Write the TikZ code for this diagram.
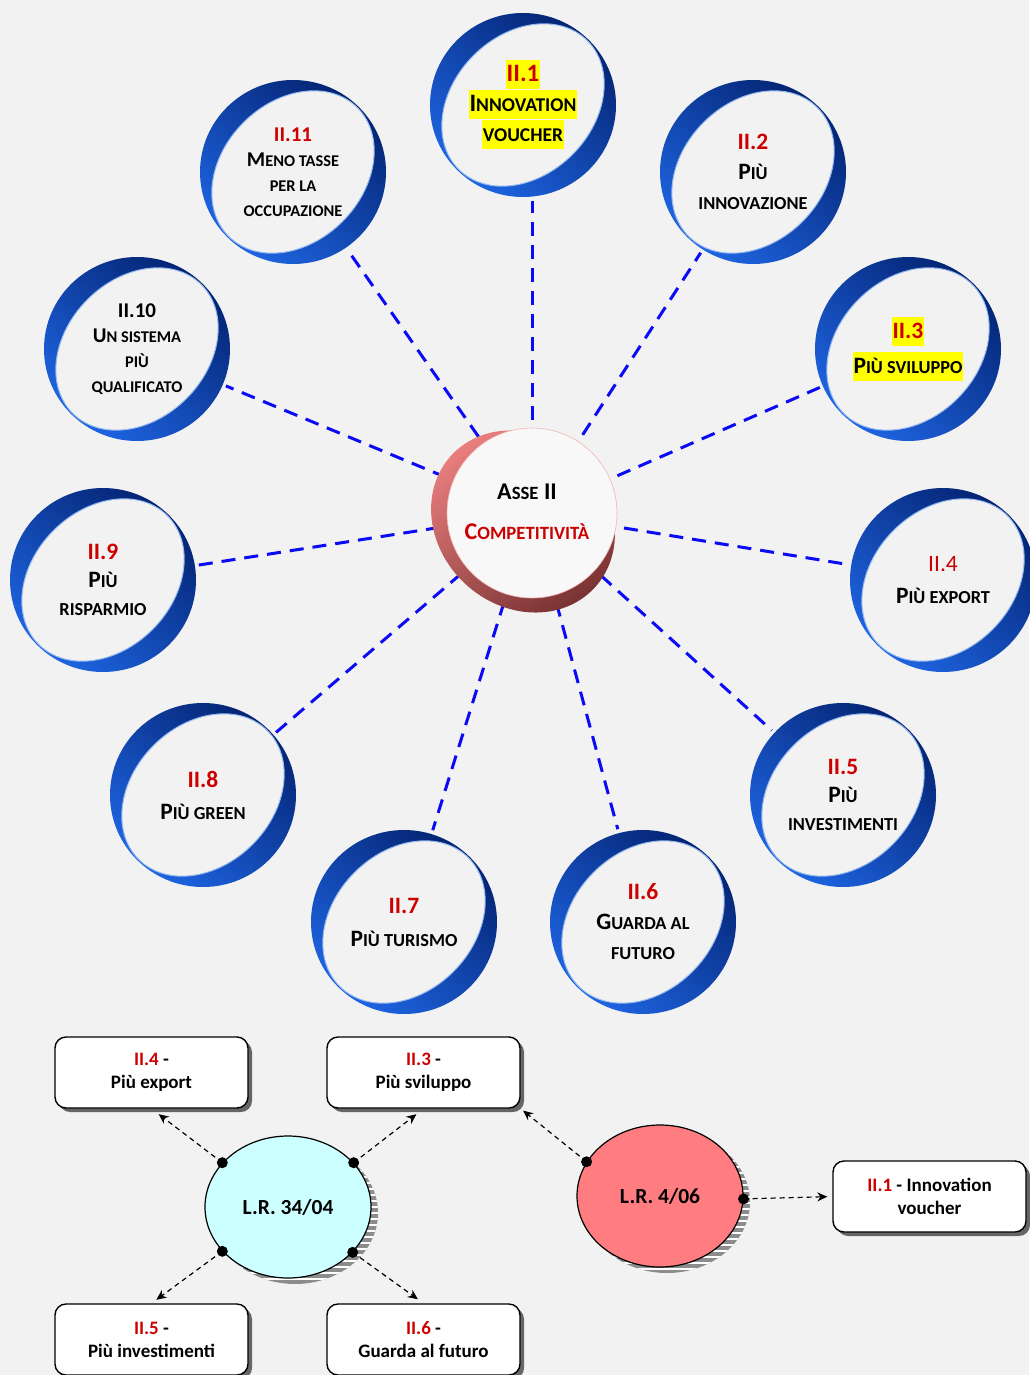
\documentclass[tikz,border=0pt]{standalone}
\usepackage{fontspec}
\setmainfont{Carlito}
\usetikzlibrary{shapes.geometric,arrows.meta,shadows}
\definecolor{bgc}{RGB}{242,242,242}
\definecolor{numred}{RGB}{204,0,0}
\definecolor{ringdark}{RGB}{4,36,115}
\definecolor{ringlight}{RGB}{30,100,225}
\definecolor{ringedge}{RGB}{150,185,240}
\definecolor{hlyellow}{RGB}{255,255,0}
\definecolor{lrcyan}{RGB}{204,255,255}
\definecolor{lrred}{RGB}{255,124,128}
\definecolor{discpink}{RGB}{236,128,128}
\definecolor{discdark}{RGB}{118,48,48}
\definecolor{discface}{RGB}{248,248,248}
\definecolor{lineblue}{RGB}{10,10,245}
\makeatletter
\newcommand\smc{\fontsize{\fpeval{0.78*\f@size}}{\f@baselineskip}\selectfont}
\makeatother
\newcommand\hl[1]{{\setlength\fboxsep{1pt}\colorbox{hlyellow}{\vrule width 0pt height 20pt depth 7pt #1}}}
\newcommand\nr[1]{{\color{numred}#1}}
\pgfdeclarelayer{bgl}\pgfdeclarelayer{back}\pgfdeclarelayer{mid}
\pgfsetlayers{bgl,back,mid,main}
\newcommand\ringshape[1]{%
 \shade[even odd rule, top color=ringdark, bottom color=ringlight, shading angle=-40]
   (#1) ellipse[x radius=93pt, y radius=92pt]
   (#1) ellipse[x radius=91pt, y radius=70pt, rotate=45];
 \draw[ringedge, line width=1pt] (#1) ellipse[x radius=91pt, y radius=70pt, rotate=45];
}
\begin{document}
\begin{tikzpicture}[x=1pt,y=-1pt,
  ringnode/.style={circle, minimum size=192pt, inner sep=0pt, align=center},
  fA/.style={font=\bfseries\fontsize{21}{25}\selectfont},
  conn/.style={lineblue, line width=3pt, dash pattern=on 14pt off 9pt},
  lrbox/.style={draw=black, line width=1.4pt, fill=white, rounded corners=11pt,
    minimum width=193pt, minimum height=71pt, align=center, inner sep=2pt,
    font=\bfseries\fontsize{19}{23}\selectfont,
    drop shadow={shadow xshift=4pt, shadow yshift=-4pt, fill=black!60, opacity=1}},
  lrell/.style={ellipse, draw=black, line width=1.2pt, minimum width=166pt, minimum height=142pt,
    inner sep=0pt, font=\bfseries\fontsize{21.5}{24}\selectfont},
  lrconn/.style={black, line width=1.2pt, dash pattern=on 5pt off 4pt, -{Stealth[length=10pt,width=9pt]}},
  dotend/.style={black}
]
\begin{pgfonlayer}{bgl}
\fill[bgc] (0,0) rectangle (1029,1375);
\end{pgfonlayer}
\useasboundingbox (0,0) rectangle (1029,1375);

% ring nodes with text
\node[ringnode, font=\bfseries\fontsize{25}{30}\selectfont] (r1) at (523,105)
  {\hl{\nr{II.1}}\\\hl{I{\smc NNOVATION}}\\\hl{{\smc VOUCHER}}};
\node[ringnode, font=\bfseries\fontsize{23.5}{30}\selectfont] (r2) at (753,172)
  {\nr{II.2}\\P{\smc IÙ}\\{\smc INNOVAZIONE}};
\node[ringnode, font=\bfseries\fontsize{23.5}{35}\selectfont] (r3) at (908,349)
  {\hl{\nr{II.3}}\\\hl{P{\smc IÙ SVILUPPO}}};
\node[ringnode, font=\bfseries\fontsize{23.5}{32}\selectfont] (r4) at (943,580)
  {{\mdseries\nr{II.4}}\\P{\smc IÙ EXPORT}};
\node[ringnode, font=\bfseries\fontsize{23.5}{28}\selectfont] (r5) at (843,795)
  {\nr{II.5}\\P{\smc IÙ}\\{\smc INVESTIMENTI}};
\node[ringnode, font=\bfseries\fontsize{23.5}{30}\selectfont] (r6) at (643,922)
  {\nr{II.6}\\G{\smc UARDA AL}\\{\smc FUTURO}};
\node[ringnode, font=\bfseries\fontsize{23.5}{33}\selectfont] (r7) at (404,922)
  {\nr{II.7}\\P{\smc IÙ TURISMO}};
\node[ringnode, font=\bfseries\fontsize{23.5}{32}\selectfont] (r8) at (203,795)
  {\nr{II.8}\\P{\smc IÙ GREEN}};
\node[ringnode, font=\bfseries\fontsize{23.5}{28}\selectfont] (r9) at (103,580)
  {\nr{II.9}\\P{\smc IÙ}\\{\smc RISPARMIO}};
\node[ringnode, fA] (r10) at (137,349)
  {II.10\\U{\smc N SISTEMA}\\{\smc PIÙ}\\{\smc QUALIFICATO}};
\node[ringnode, fA] (r11) at (293,172)
  {\nr{II.11}\\M{\smc ENO TASSE}\\{\smc PER LA}\\{\smc OCCUPAZIONE}};

% centre
\node[circle, minimum size=186pt, inner sep=0pt] (c) at (532,513) {};
\node[align=center, font=\bfseries\fontsize{24}{40}\selectfont] (ct) at (527,512)
  {A{\smc SSE} II\\\nr{C{\smc OMPETITIVITÀ}}};

% connectors (behind)
\begin{pgfonlayer}{back}
\draw[conn] (c.north) -- (c.north |- r1.south);
\foreach \r in {r2,r3,r4,r5,r6,r7,r8,r9,r10,r11}
  \draw[conn] (c) -- (\r);
\end{pgfonlayer}

% ring graphics and disc
\begin{pgfonlayer}{mid}
\foreach \r in {r1,r2,r3,r4,r5,r6,r7,r8,r9,r10,r11}
  {\ringshape{\r.center}}
\shade[top color=discpink, bottom color=discdark, shading angle=35]
  (523,521.5) ellipse[x radius=97.5pt, y radius=85pt, rotate=-43];
\fill[discface] (532,513) circle[radius=85pt];
\draw[discpink!60, line width=0.6pt] (532,513) circle[radius=85pt];
\end{pgfonlayer}

% bottom part: ellipse shadows
\begin{scope}
\clip (295,1213) ellipse[x radius=83pt, y radius=71pt];
\fill[black!45] (200,1130) rectangle (390,1300);
\foreach \k in {0,...,30} \draw[white, line width=1.3pt] (200,1135+6*\k) -- (390,1135+6*\k);
\end{scope}
\begin{scope}
\clip (667,1202) ellipse[x radius=83pt, y radius=71pt];
\fill[black!45] (570,1120) rectangle (760,1290);
\foreach \k in {0,...,30} \draw[white, line width=1.3pt] (570,1125+6*\k) -- (760,1125+6*\k);
\end{scope}

\node[lrell, fill=lrcyan] (e1) at (288,1207) {L.R. 34/04};
\node[lrell, fill=lrred] (e2) at (660,1196) {L.R. 4/06};

\node[lrbox] (b4) at (151.5,1072.5) {\nr{II.4} -\\Più export};
\node[lrbox] (b3) at (423.5,1072.5) {\nr{II.3} -\\Più sviluppo};
\node[lrbox] (b5) at (151.5,1339.5) {\nr{II.5} -\\Più investimenti};
\node[lrbox] (b6) at (423.5,1339.5) {\nr{II.6} -\\Guarda al futuro};
\node[lrbox] (b1) at (929.5,1196.5) {\nr{II.1} - Innovation\\voucher};

\draw[lrconn, shorten >=9pt] (e1.146) -- (b4.south);
\draw[lrconn, shorten >=9pt] (e1.34) -- (b3.south);
\draw[lrconn, shorten >=6pt] (e1.214) -- (b5.north);
\draw[lrconn, shorten >=7pt] (e1.325) -- (b6.north);
\draw[lrconn, shorten >=3pt] (e2.155) -- (b3.south east);
\draw[lrconn, shorten >=5pt] (e2.358) -- (b1.west);
\foreach \p in {e1.146,e1.34,e1.214,e1.325,e2.155,e2.358}
  \fill[dotend] (\p) circle[radius=5.5pt];
\end{tikzpicture}
\end{document}
